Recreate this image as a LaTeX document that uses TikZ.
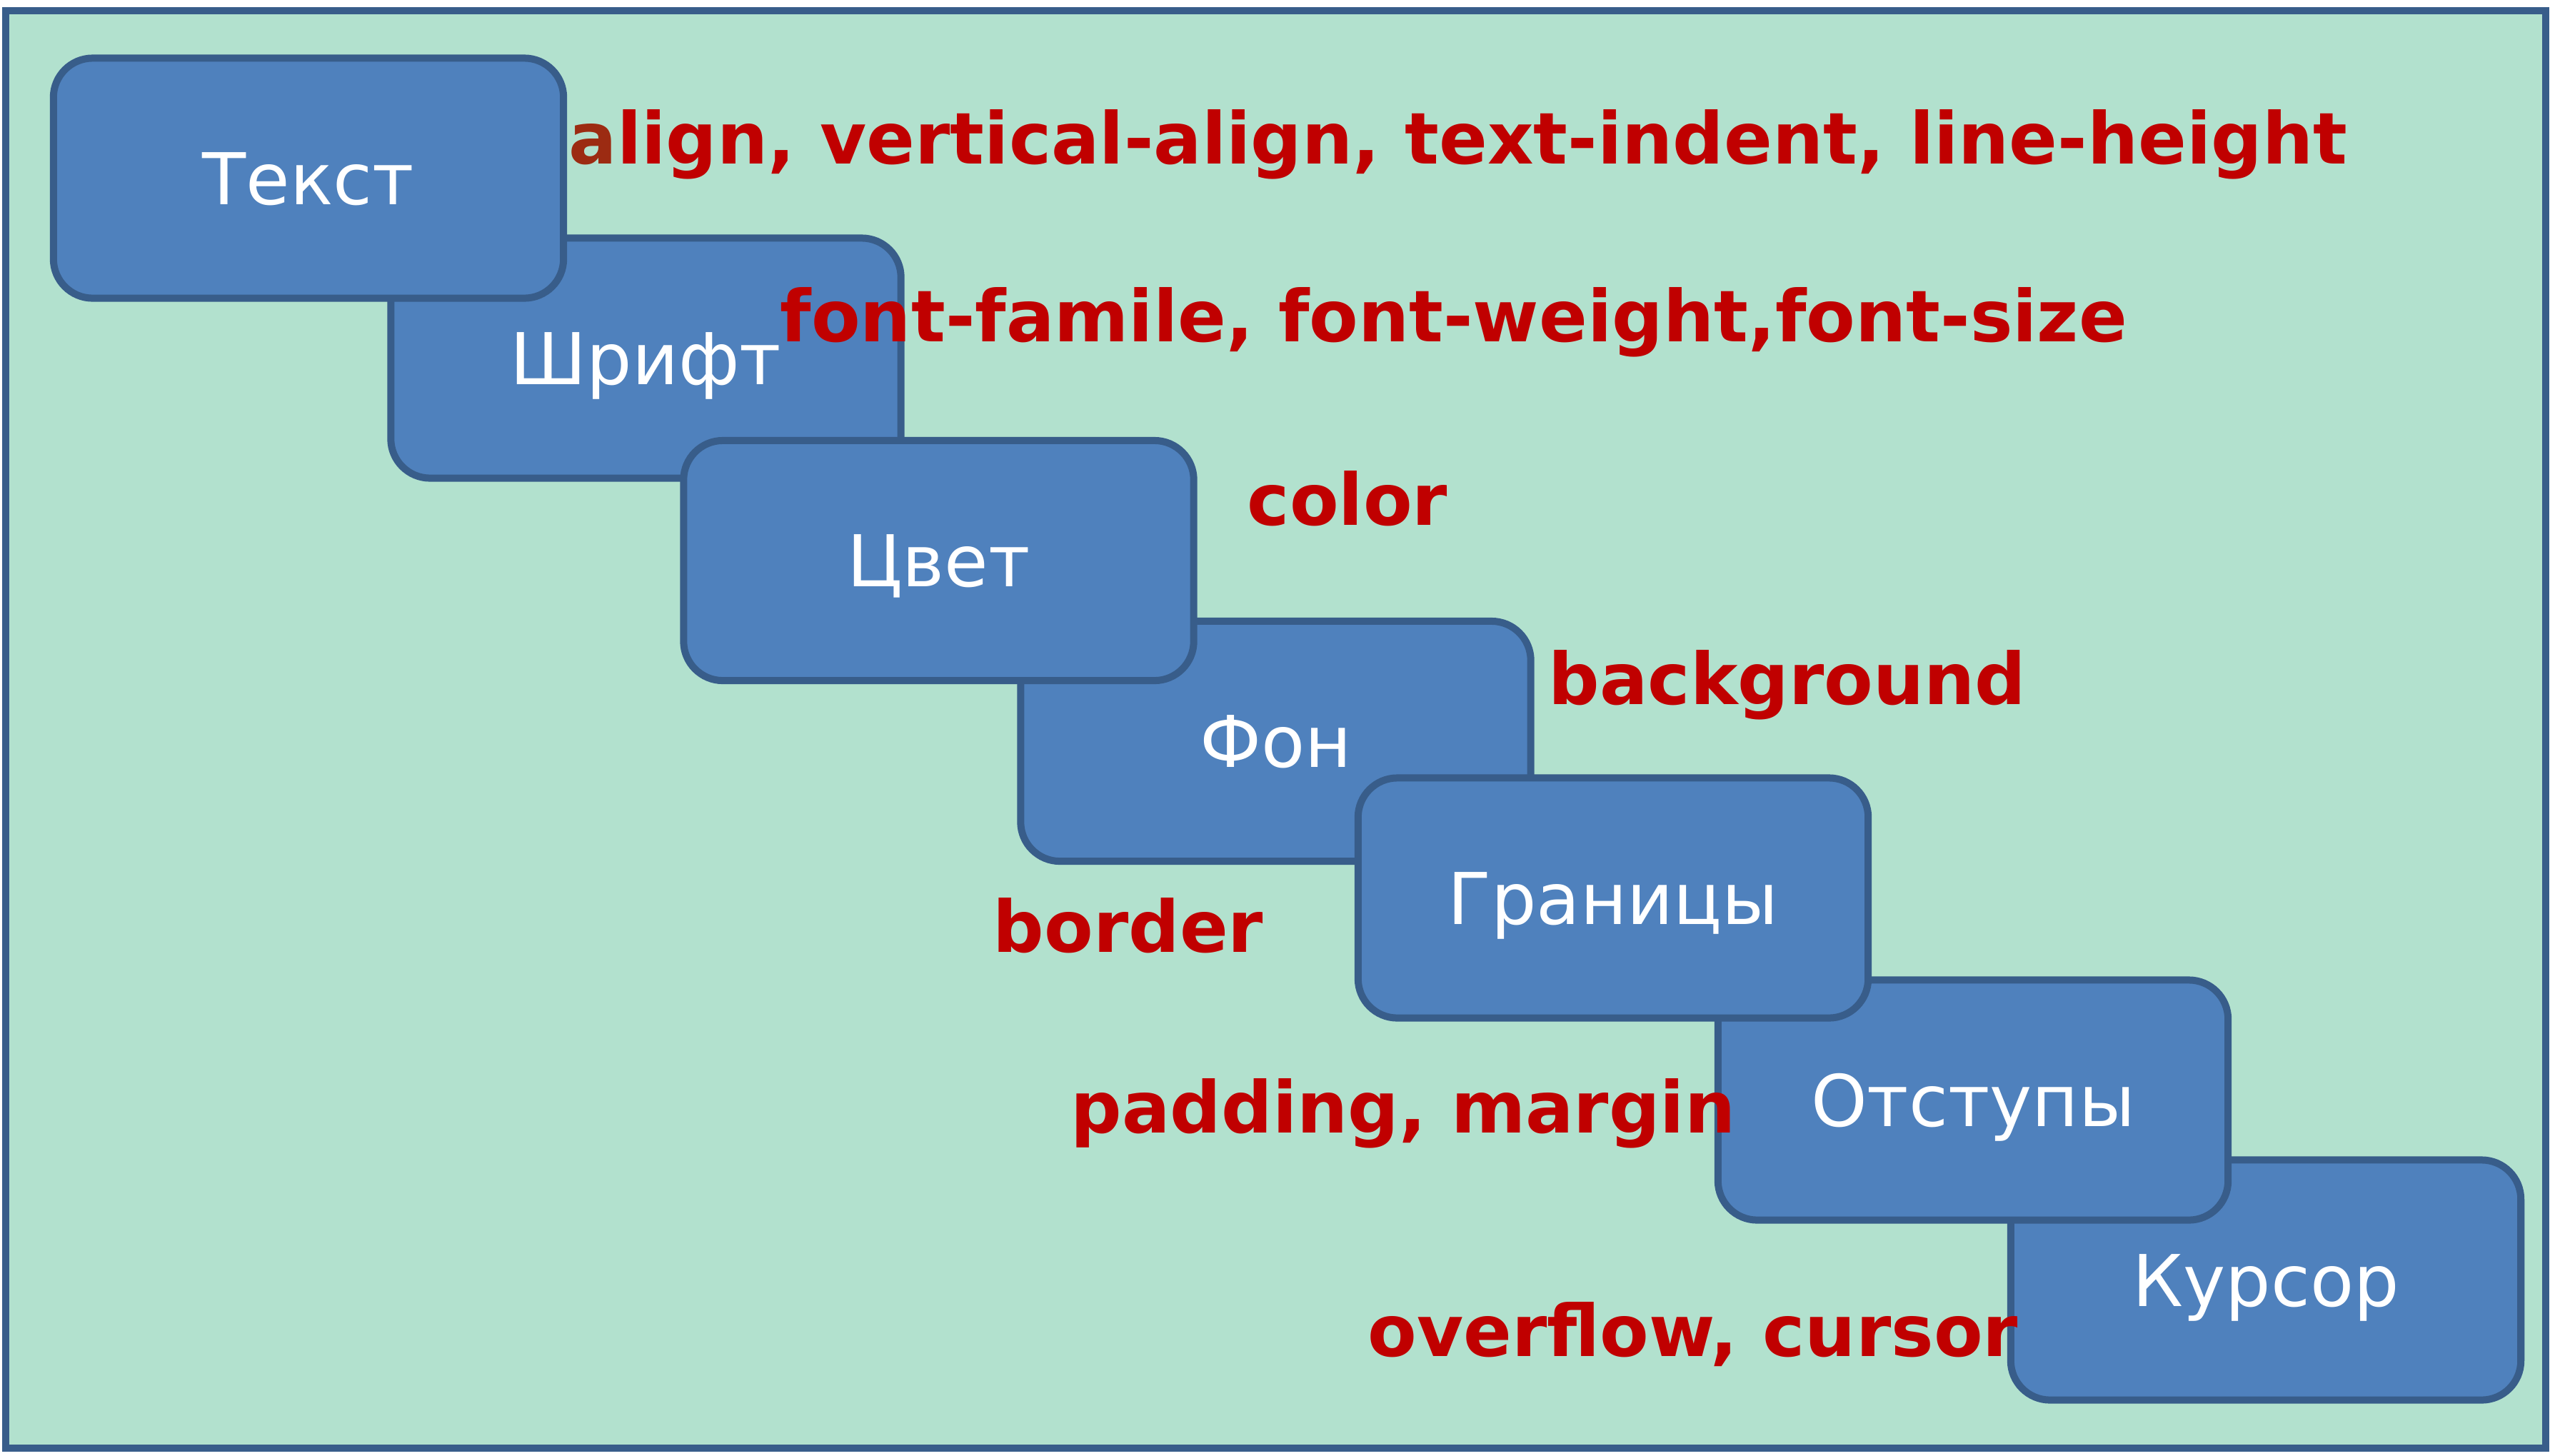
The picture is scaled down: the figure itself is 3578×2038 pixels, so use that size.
\documentclass[tikz,border=0pt]{standalone}
\usepackage{fontspec}
\setmainfont{DejaVu Sans}
\definecolor{bgmint}{RGB}{178,225,206}
\definecolor{frameblue}{RGB}{56,93,138}
\definecolor{boxblue}{RGB}{79,129,189}
\definecolor{labelred}{RGB}{192,0,0}
\definecolor{labelbrown}{RGB}{156,43,18}
\begin{document}
\begin{tikzpicture}[x=0.01cm,y=-0.01cm,
  topic/.style={draw=frameblue, fill=boxblue, line width=0.1cm, rounded corners=0.55cm,
    minimum width=7.14cm, minimum height=3.36cm, inner sep=0pt, text=white,
    font=\fontsize{28.45pt}{34pt}\selectfont, text height=0.73cm, text depth=0pt},
  prop/.style={text=labelred, font=\bfseries\fontsize{28.45pt}{34pt}\selectfont,
    anchor=base west, inner sep=0pt}]
\useasboundingbox (0,0) rectangle (3578,2038);
\draw[frameblue, fill=bgmint, line width=0.1cm] (8,15) rectangle (3565,2028);
% boxes, back to front
\node[topic] (font)   at (904.5,501.5) {Шрифт};
\node[topic] (text)   at (432,249.5)   {Текст};
\node[topic] (bg)     at (1786.5,1038) {Фон};
\node[topic] (color)  at (1314.5,785)  {Цвет};
\node[topic] (cursor) at (3173,1792.5) {Курсор};
\node[topic] (indent) at (2763,1540.5) {Отступы};
\node[topic] (border) at (2259,1257.5) {Границы};
% property labels
\node[prop] (ltext)   at (796,229)   {{\color{labelbrown}a}lign, vertical-align, text-indent, line-height};
\node[prop] (lfont)   at (1092,478)  {font-famile, font-weight,font-size};
\node[prop] (lcolor)  at (1746,735)  {color};
\node[prop] (lbg)     at (2168,986)  {background};
\node[prop] (lborder) at (1390,1333) {border};
\node[prop] (lindent) at (1499,1586) {padding, margin};
\node[prop] (lcursor) at (1915,1899) {overflow, cursor};
\end{tikzpicture}
\end{document}
